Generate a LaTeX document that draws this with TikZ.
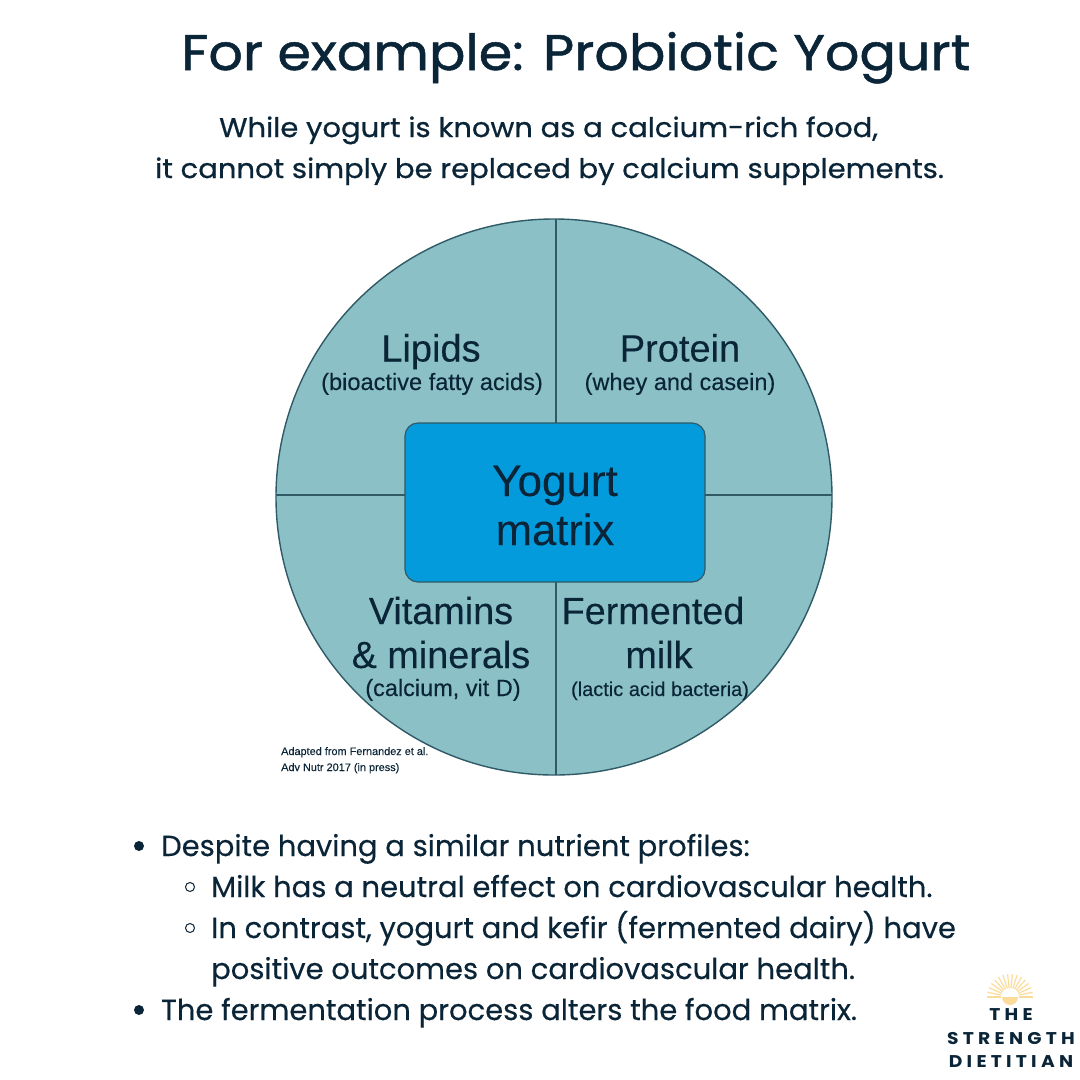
\documentclass[tikz,border=0pt]{standalone}
\usepackage{fontspec}
\setmainfont{Poppins}
\newfontfamily\titlef[FakeStretch=1.08,FakeBold=1.0]{Poppins}
\newfontfamily\subf[FakeStretch=1.075,FakeBold=0.7]{Poppins}
\newfontfamily\bodyf[FakeBold=0.35]{Poppins}
\newfontfamily\logof[FakeStretch=1.1,LetterSpace=25]{Poppins}
\newfontfamily\arialf[FakeBold=0.2]{Liberation Sans}
\definecolor{ink}{HTML}{0B2538}
\definecolor{teal}{HTML}{8AC0C6}
\definecolor{blueb}{HTML}{049BDD}
\definecolor{edgec}{HTML}{2F5A66}
\definecolor{sun}{HTML}{FBDC9A}
\tikzset{x=1pt,y=-1pt,
 txt/.style={inner sep=0pt,text=ink,anchor=base west},
 ctxt/.style={inner sep=0pt,text=ink,anchor=base},
 partline/.style={draw=edgec,line width=1.4pt},
 disc/.style={circle,fill=ink,inner sep=0pt,minimum size=10pt},
 ring/.style={circle,draw=ink,line width=1pt,inner sep=0pt,minimum size=9pt},
 ray/.style={draw=sun,line width=1.2pt},
 logotxt/.style={anchor=base,inner sep=0pt,text=ink,font=\logof\bfseries\fontsize{17}{17}\selectfont}}
\begin{document}
\begin{tikzpicture}
\useasboundingbox (0,0) rectangle (1080,1080);
\fill[white] (0,0) rectangle (1080,1080);
\node[txt,font=\titlef\fontsize{50}{50}\selectfont] (title) at (181,70) {For example: Probiotic Yogurt};
\node[txt,font=\subf\fontsize{27}{27}\selectfont] (l1) at (219,137) {While yogurt is known as a calcium-rich food,};
\node[txt,font=\subf\fontsize{27}{27}\selectfont] (l2) at (155,178) {it cannot simply be replaced by calcium supplements.};
% circle
\node[circle,fill=teal,draw=edgec,line width=1.4pt,minimum size=556pt,inner sep=0pt] (c) at (554,497) {};
\coordinate (top) at (556,219);
\coordinate (bot) at (556,775);
\coordinate (lft) at (276,495);
\coordinate (rgt) at (832,495);
\draw[partline] (top) -- (bot);
\draw[partline] (lft) -- (rgt);
\node[draw=edgec,line width=1.2pt,fill=blueb,rounded corners=13pt,minimum width=300pt,minimum height=159pt,inner sep=0pt] (m) at (555,502.5) {};
\node[ctxt,font=\arialf\fontsize{44}{44}\selectfont] (y1) at (555,496) {Yogurt};
\node[ctxt,font=\arialf\fontsize{43.5}{44}\selectfont] (y2) at (555,545) {matrix};
\node[ctxt,font=\arialf\fontsize{38}{38}\selectfont] (a1) at (431,361.5) {Lipids};
\node[ctxt,font=\arialf\fontsize{23.6}{23}\selectfont] (a2) at (432,390) {(bioactive fatty acids)};
\node[ctxt,font=\arialf\fontsize{38}{38}\selectfont] (b1) at (680,361.5) {Protein};
\node[ctxt,font=\arialf\fontsize{23.5}{23}\selectfont] (b2) at (680,390) {(whey and casein)};
\node[ctxt,font=\arialf\fontsize{37.8}{38}\selectfont] (d1) at (441,624) {Vitamins};
\node[ctxt,font=\arialf\fontsize{37.8}{38}\selectfont] (d2) at (441,668) {\& minerals};
\node[ctxt,font=\arialf\fontsize{23.5}{23}\selectfont] (d3) at (443,696) {(calcium, vit D)};
\node[ctxt,font=\arialf\fontsize{37.8}{38}\selectfont] (e1) at (653,624) {Fermented};
\node[ctxt,font=\arialf\fontsize{37.8}{38}\selectfont] (e2) at (659,668) {milk};
\node[ctxt,font=\arialf\fontsize{20}{20}\selectfont] (e3) at (660,696) {(lactic acid bacteria)};
\node[inner sep=0pt,anchor=base west,text=ink,font=\arialf\fontsize{10.9}{11}\selectfont] (s1) at (281,755) {Adapted from Fernandez et al.};
\node[inner sep=0pt,anchor=base west,text=ink,font=\arialf\fontsize{10.9}{11}\selectfont] (s2) at (281,771) {Adv Nutr 2017 (in press)};
% bullets
\node[disc] (b-a) at (139,846) {};
\node[txt,font=\bodyf\fontsize{29}{29}\selectfont] (t1) at (161,856) {Despite having a similar nutrient profiles:};
\node[ring] (b-b) at (190,887) {};
\node[txt,font=\bodyf\fontsize{29}{29}\selectfont] (t2) at (211,897) {Milk has a neutral effect on cardiovascular health.};
\node[ring] (b-c) at (190,928) {};
\node[txt,font=\bodyf\fontsize{29}{29}\selectfont] (t3) at (211,938) {In contrast, yogurt and kefir (fermented dairy) have};
\node[txt,font=\bodyf\fontsize{29}{29}\selectfont] (t4) at (211,979) {positive outcomes on cardiovascular health.};
\node[disc] (b-d) at (139,1010) {};
\node[txt,font=\bodyf\fontsize{29}{29}\selectfont] (t5) at (161,1020) {The fermentation process alters the food matrix.};
% logo
\foreach \a in {0,12,...,180}{\draw[ray] ({1010+9*cos(\a)},{997-9*sin(\a)}) -- ({1010+23*cos(\a)},{997-23*sin(\a)});}
\fill[sun] (1002,997) arc[start angle=180,end angle=0,radius=8] -- cycle;
\node[logotxt] (lg1) at (1011,1020) {THE};
\node[logotxt] (lg2) at (1011,1044) {STRENGTH};
\node[logotxt] (lg3) at (1011,1067) {DIETITIAN};
\end{tikzpicture}
\end{document}
